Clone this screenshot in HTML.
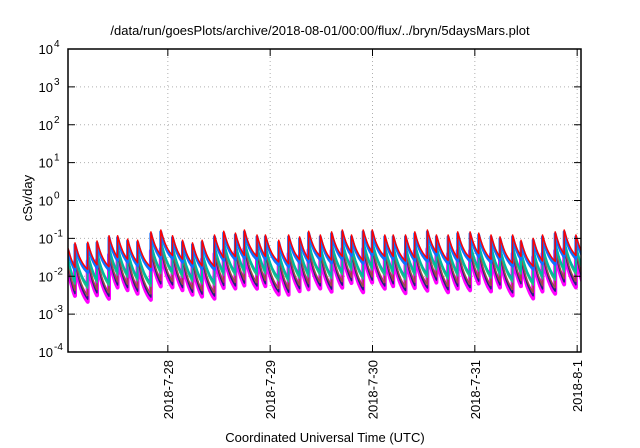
<!DOCTYPE html>
<html><head><meta charset="utf-8"><style>
html,body{margin:0;padding:0;background:#fff;}
svg{display:block;font-family:"Liberation Sans",sans-serif;}
</style></head><body>
<svg id="chart" width="640" height="448" viewBox="0 0 640 448">
<rect width="640" height="448" fill="#fff"/>
<text x="320" y="35" text-anchor="middle" font-size="13" fill="#000">/data/run/goesPlots/archive/2018-08-01/00:00/flux/../bryn/5daysMars.plot</text>
<text x="325" y="442" text-anchor="middle" font-size="13" fill="#000">Coordinated Universal Time (UTC)</text>
<text transform="translate(32,198) rotate(-90)" text-anchor="middle" font-size="13" fill="#000">cSv/day</text>
<g id="grid"></g>
<defs><clipPath id="pc"><rect x="68" y="49" width="513" height="303"/></clipPath></defs>
<g id="series" clip-path="url(#pc)"></g>
<g id="axes"></g>
</svg>
<script>
// hours since 2018-07-27 00:00 at which each dose sawtooth restarts
const toothStart=[0.585,2.22,5.20,7.38,10.19,12.22,14.56,16.91,20.02,22.36,25.10,27.44,29.78,32.03,34.94,37.11,39.85,41.96,44.91,46.88,49.99,52.33,54.91,57.02,59.75,62.40,64.91,67.08,69.82,71.93,74.88,76.85,79.73,81.91,84.88,86.99,89.73,91.98,94.88,96.90,99.80,101.91,104.86,106.83,109.70,111.88,114.85,116.96,119.70];
// log10 peak value (cSv/day) of the top series per tooth
const toothPeak=[-1.26,-1.12,-1.10,-1.07,-0.93,-0.93,-1.02,-1.05,-0.83,-0.78,-0.93,-1.05,-1.12,-1.05,-0.91,-0.81,-0.86,-0.78,-0.91,-0.91,-1.05,-0.91,-0.96,-0.81,-0.91,-0.83,-0.78,-0.91,-0.78,-0.78,-0.91,-0.91,-0.91,-0.83,-0.78,-0.91,-0.91,-0.83,-0.83,-0.86,-0.91,-0.96,-0.91,-1.05,-1.0,-0.91,-0.83,-0.78,-0.91];
const seriesNames=['magenta','yellow','navy','brown','green','teal','blue','red'];
const seriesPeakOffset=[-0.50,-0.45,-0.46,-0.40,-0.30,-0.25,-0.05,0];
const seriesDecay=[0.68,0.66,0.66,0.64,0.58,0.56,0.47,0.45];
const seriesColor=['#ff00ff','#e8c000','#202080','#a04848','#20c080','#00b8a0','#1070ff','#ff0000'];
const seriesWidth=[4,1.5,1.5,1.5,1.5,2,3,1.5];
const yTicks=[-4,-3,-2,-1,0,1,2,3,4];
const xTickHours=[24,48,72,96,120];
const xTickLabels=['2018-7-28','2018-7-29','2018-7-30','2018-7-31','2018-8-1'];
const xMin=0.585,xMax=120.9,tau=2.0;
const L=68,R=581,T=49,B=352;
function X(h){return L+(h-xMin)/(xMax-xMin)*(R-L);}
function Y(lg){return B-(lg+4)/8*(B-T);}
const NS='http://www.w3.org/2000/svg';
function mk(tag,attrs,parent){const e=document.createElementNS(NS,tag);for(const k in attrs)e.setAttribute(k,attrs[k]);parent.appendChild(e);return e;}
const grid=document.getElementById('grid'),axes=document.getElementById('axes'),ser=document.getElementById('series');
yTicks.forEach((t,i)=>{
  const y=Y(t);
  if(t>-4&&t<4){const g=mk('line',{x1:L,x2:R,y1:y,y2:y,stroke:'#b0b0b0','stroke-width':1,'stroke-dasharray':'1,3'},grid);
  
  }
  const a=mk('line',{x1:L,x2:L+7,y1:y,y2:y,stroke:'#000','stroke-width':1},axes);
  
  
  const b=mk('line',{x1:R-7,x2:R,y1:y,y2:y,stroke:'#000','stroke-width':1},axes);
  
  
  const tx=mk('text',{x:53,y:y+5,'text-anchor':'end','font-size':13,fill:'#000'},axes);
  
  
  tx.textContent='10';
  const sp=mk('text',{x:54,y:y-2,'text-anchor':'start','font-size':10,fill:'#000'},axes);
  
  
  sp.textContent=String(t);
});
xTickHours.forEach((h,i)=>{
  const x=X(h);
  const g=mk('line',{x1:x,x2:x,y1:T,y2:B,stroke:'#b0b0b0','stroke-width':1,'stroke-dasharray':'1,3'},grid);
  
  
  const a=mk('line',{x1:x,x2:x,y1:B-7,y2:B,stroke:'#000','stroke-width':1},axes);
  
  
  const b=mk('line',{x1:x,x2:x,y1:T,y2:T+7,stroke:'#000','stroke-width':1},axes);
  
  
  const tx=mk('text',{transform:'translate('+(x+5)+','+(B+8)+') rotate(-90)','text-anchor':'end','font-size':13,fill:'#000'},axes);
  
  
  tx.textContent=xTickLabels[i];
});
const frame=mk('rect',{x:L,y:T,width:R-L,height:B-T,fill:'none',stroke:'#000','stroke-width':1.5},axes);


seriesNames.forEach((n,s)=>{
  let pts=[];
  for(let i=0;i<toothStart.length;i++){
    const h0=toothStart[i],h1=(i+1<toothStart.length)?toothStart[i+1]:xMax+2;
    const p=toothPeak[i]+seriesPeakOffset[s];
    pts.push(X(h0).toFixed(1)+','+Y(p).toFixed(1));
    const nSteps=8;
    for(let k=1;k<=nSteps;k++){const h=h0+(h1-h0)*k/nSteps;const dt=h-h0;
      pts.push(X(h).toFixed(1)+','+Y(p-seriesDecay[s]*tau*(1-Math.exp(-dt/tau))).toFixed(1));}
  }
  const pl=mk('polyline',{points:pts.join(' '),fill:'none',stroke:seriesColor[s],'stroke-width':seriesWidth[s],'stroke-linejoin':'round'},ser);
  
  
});
</script>
</body></html>
